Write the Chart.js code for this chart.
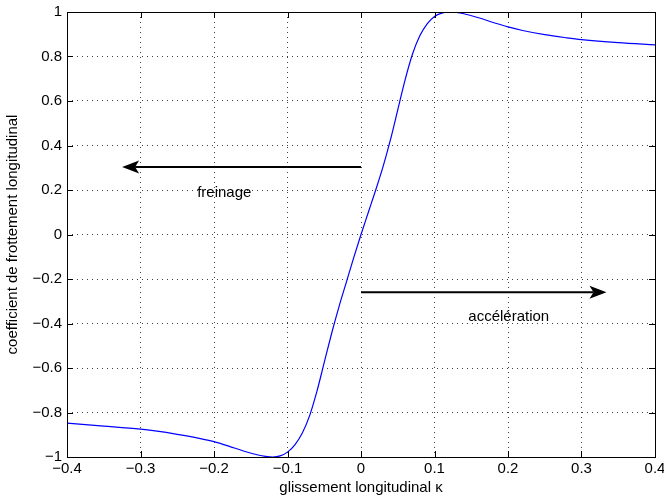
<!DOCTYPE html>
<html>
<head>
<meta charset="utf-8">
<script src="https://cdn.jsdelivr.net/npm/chart.js@4/dist/chart.umd.min.js"></script>
<style>
  html, body { margin: 0; padding: 0; background: #fff; }
  #wrap { width: 664px; height: 498px; }
</style>
</head>
<body>
<div id="wrap"><canvas id="slipChart" width="664" height="498"></canvas></div>
<script>
// slip values (kappa) and friction coefficient
const kappa = [
  -0.40, -0.35, -0.30, -0.28, -0.25, -0.22, -0.20, -0.18, -0.16, -0.14,
  -0.13, -0.12, -0.11, -0.10, -0.09, -0.08, -0.07, -0.06, -0.05, -0.04,
  -0.03, -0.02, -0.01, 0.00, 0.01, 0.02, 0.03, 0.04, 0.05, 0.06,
  0.07, 0.08, 0.09, 0.10, 0.11, 0.12, 0.13, 0.14, 0.16, 0.18,
  0.20, 0.22, 0.25, 0.28, 0.30, 0.35, 0.40,
];
const mu = [
  -0.848, -0.861, -0.875, -0.883, -0.898, -0.916, -0.931, -0.951, -0.973, -0.991,
  -0.997, -1.0, -0.995, -0.978, -0.945, -0.893, -0.815, -0.705, -0.575, -0.445,
  -0.325, -0.215, -0.105, 0.0, 0.100, 0.200, 0.305, 0.425, 0.560, 0.695,
  0.810, 0.893, 0.947, 0.980, 0.995, 1.0, 0.998, 0.992, 0.974, 0.953,
  0.933, 0.917, 0.898, 0.884, 0.876, 0.862, 0.852,
];

const xTicks = [-0.4, -0.3, -0.2, -0.1, 0, 0.1, 0.2, 0.3, 0.4];
const yTicks = [-1, -0.8, -0.6, -0.4, -0.2, 0, 0.2, 0.4, 0.6, 0.8, 1];

// annotations: arrows (from -> to) and texts, in data units
const arrowFrom = [[0, 0.303], [0, -0.259]];
const arrowTo = [[-0.325, 0.303], [0.334, -0.259]];
const noteText = ["freinage", "accélération"];
const notePos = [[-0.186, 0.187], [0.201, -0.371]];

const FONT = "'Liberation Sans', Arial, Helvetica, sans-serif";

function fmt(v) {
  const s = String(Math.round(v * 10) / 10);
  return s.replace("-", "\u2212");
}

const matlabAxes = {
  id: "matlabAxes",
  afterDraw(chart) {
    const { ctx, chartArea: a, scales } = chart;
    const sx = scales.x, sy = scales.y;
    ctx.save();
    // inward ticks on all four sides
    ctx.strokeStyle = "#000";
    ctx.lineWidth = 1;
    ctx.beginPath();
    xTicks.forEach((v) => {
      const px = Math.round(sx.getPixelForValue(v)) + 0.5;
      ctx.moveTo(px, a.bottom); ctx.lineTo(px, a.bottom - 6);
      ctx.moveTo(px, a.top); ctx.lineTo(px, a.top + 6);
    });
    yTicks.forEach((v) => {
      const py = Math.round(sy.getPixelForValue(v)) + 0.5;
      ctx.moveTo(a.left, py); ctx.lineTo(a.left + 6, py);
      ctx.moveTo(a.right, py); ctx.lineTo(a.right - 6, py);
    });
    ctx.stroke();
    // box
    ctx.strokeRect(Math.round(a.left) + 0.5, Math.round(a.top) + 0.5,
      Math.round(a.right - a.left), Math.round(a.bottom - a.top));

    // arrows
    ctx.fillStyle = "#000";
    arrowFrom.forEach((f, i) => {
      const x0 = sx.getPixelForValue(f[0]), y0 = sy.getPixelForValue(f[1]);
      const x1 = sx.getPixelForValue(arrowTo[i][0]), y1 = sy.getPixelForValue(arrowTo[i][1]);
      const ang = Math.atan2(y1 - y0, x1 - x0);
      const c = Math.cos(ang), s = Math.sin(ang);
      const L = 17, W = 6.5, N = 13;
      ctx.lineWidth = 2;
      ctx.beginPath();
      ctx.moveTo(x0, y0);
      ctx.lineTo(x1 - c * N, y1 - s * N);
      ctx.stroke();
      ctx.beginPath();
      ctx.moveTo(x1, y1);
      ctx.lineTo(x1 - c * L - s * W, y1 - s * L + c * W);
      ctx.lineTo(x1 - c * N, y1 - s * N);
      ctx.lineTo(x1 - c * L + s * W, y1 - s * L - c * W);
      ctx.closePath();
      ctx.fill();
    });

    // texts
    ctx.font = "15px " + FONT;
    ctx.textAlign = "center";
    ctx.textBaseline = "middle";
    noteText.forEach((t, i) => {
      ctx.fillText(t, sx.getPixelForValue(notePos[i][0]), sy.getPixelForValue(notePos[i][1]));
    });
    ctx.restore();
  },
};

const ctx = document.getElementById("slipChart").getContext("2d");
new Chart(ctx, {
  type: "line",
  data: {
    datasets: [
      {
        data: kappa.map((k, i) => ({ x: k, y: mu[i] })),
        borderColor: "#0000ff",
        borderWidth: 1.2,
        pointRadius: 0,
        cubicInterpolationMode: "monotone",
        fill: false,
      },
    ],
  },
  options: {
    responsive: false,
    animation: false,
    layout: { padding: { top: 12, right: 9, left: 0, bottom: 0 } },
    plugins: { legend: { display: false }, tooltip: { enabled: false } },
    scales: {
      x: {
        type: "linear",
        min: -0.4,
        max: 0.4,
        afterBuildTicks: (s) => { s.ticks = xTicks.map((v) => ({ value: v })); },
        afterFit: (s) => { s.height = 41; s.paddingLeft = 0; s.paddingRight = 0; },
        grid: { color: "rgba(0,0,0,0.75)", drawTicks: false, lineWidth: 1 },
        border: { display: false, dash: [1, 4] },
        ticks: {
          color: "#000",
          padding: 3,
          maxRotation: 0,
          font: { family: FONT, size: 15 },
          callback: (v) => fmt(v),
        },
        title: {
          display: true,
          text: "glissement longitudinal κ",
          color: "#000",
          font: { family: FONT, size: 15 },
          padding: { top: 0, bottom: 1 },
        },
      },
      y: {
        type: "linear",
        min: -1,
        max: 1,
        afterBuildTicks: (s) => { s.ticks = yTicks.map((v) => ({ value: v })); },
        afterFit: (s) => { s.width = 67; s.paddingTop = 0; s.paddingBottom = 0; },
        grid: { color: "rgba(0,0,0,0.75)", drawTicks: false, lineWidth: 1 },
        border: { display: false, dash: [1, 4] },
        ticks: {
          color: "#000",
          padding: 5,
          font: { family: FONT, size: 15 },
          callback: (v) => fmt(v),
        },
        title: {
          display: true,
          text: "coefficient de frottement longitudinal",
          color: "#000",
          font: { family: FONT, size: 15 },
          padding: { top: 4, bottom: 0 },
        },
      },
    },
  },
  plugins: [matlabAxes],
});
</script>
</body>
</html>
